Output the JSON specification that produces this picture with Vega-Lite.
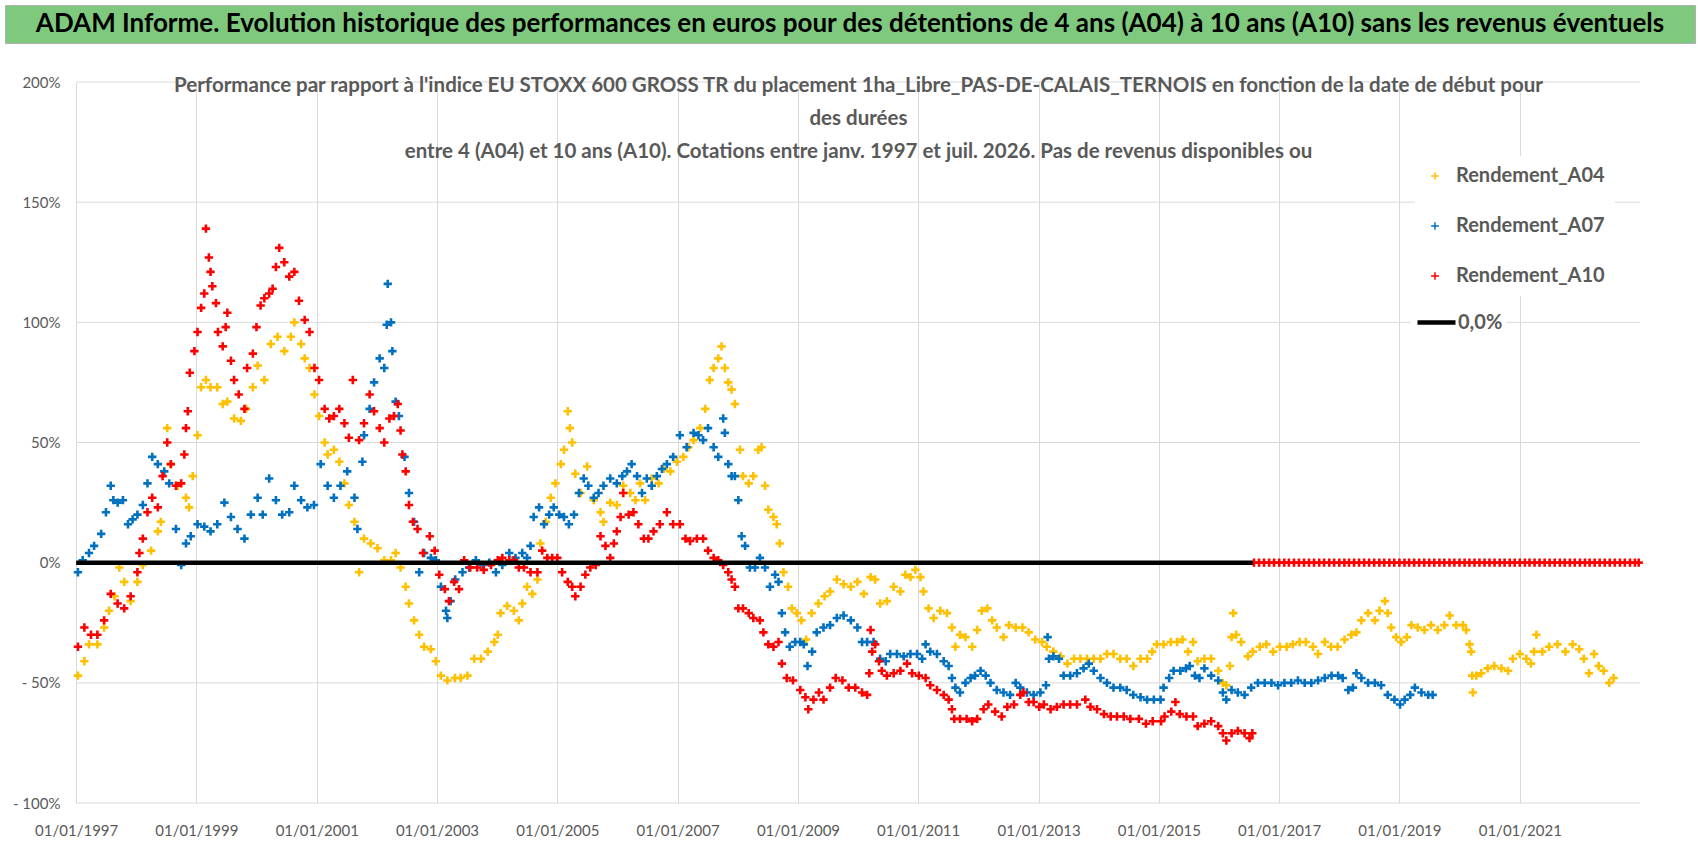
{
  "$schema": "https://vega.github.io/schema/vega-lite/v6.json",
  "background": "white",
  "padding": {"left": 4, "top": 4, "right": 4, "bottom": 4},
  "config": {
    "view": {"stroke": null},
    "font": "Lato"
  },
  "datasets": {
    "banner": [
      {"t": "ADAM Informe. Evolution historique des performances en euros pour des détentions de 4 ans (A04) à 10 ans (A10) sans les revenus éventuels"}
    ],
    "grid": [
      {"g": -100}, {"g": -50}, {"g": 0}, {"g": 50}, {"g": 100}, {"g": 150}, {"g": 200}
    ],
    "zero": [
      {"d": "1997-01-01", "v": 0},
      {"d": "2016-07-25", "v": 0}
    ],
    "pts": [
      {"s":"A04","d":"1997-01-12","v":-47},{"s":"A04","d":"1997-02-20","v":-41},{"s":"A04","d":"1997-03-20","v":-34},{"s":"A04","d":"1997-05-10","v":-34},{"s":"A04","d":"1997-06-20","v":-27},{"s":"A04","d":"1997-07-20","v":-20},{"s":"A04","d":"1997-08-22","v":-14},{"s":"A04","d":"1997-09-20","v":-2},{"s":"A04","d":"1997-10-20","v":-8},{"s":"A04","d":"1997-11-28","v":-16},
      {"s":"A04","d":"1998-01-08","v":-8},{"s":"A04","d":"1998-02-10","v":-1},{"s":"A04","d":"1998-04-01","v":5},{"s":"A04","d":"1998-05-12","v":13},{"s":"A04","d":"1998-05-30","v":17},{"s":"A04","d":"1998-07-08","v":56},{"s":"A04","d":"1998-07-30","v":41},{"s":"A04","d":"1998-09-10","v":32},{"s":"A04","d":"1998-10-30","v":27},{"s":"A04","d":"1998-11-18","v":23},{"s":"A04","d":"1998-12-10","v":36},
      {"s":"A04","d":"1999-01-08","v":53},{"s":"A04","d":"1999-01-30","v":73},{"s":"A04","d":"1999-02-28","v":76},{"s":"A04","d":"1999-03-28","v":73},{"s":"A04","d":"1999-05-08","v":73},{"s":"A04","d":"1999-06-10","v":66},{"s":"A04","d":"1999-07-08","v":67},{"s":"A04","d":"1999-08-18","v":60},{"s":"A04","d":"1999-09-28","v":59},{"s":"A04","d":"1999-10-30","v":64},{"s":"A04","d":"1999-12-10","v":73},
      {"s":"A04","d":"2000-01-08","v":82},{"s":"A04","d":"2000-02-18","v":76},{"s":"A04","d":"2000-03-28","v":91},{"s":"A04","d":"2000-05-08","v":94},{"s":"A04","d":"2000-06-18","v":88},{"s":"A04","d":"2000-07-28","v":94},{"s":"A04","d":"2000-08-18","v":100},{"s":"A04","d":"2000-09-28","v":91},{"s":"A04","d":"2000-10-20","v":85},{"s":"A04","d":"2000-11-18","v":81},{"s":"A04","d":"2000-12-18","v":70},
      {"s":"A04","d":"2001-01-15","v":61},{"s":"A04","d":"2001-02-18","v":50},{"s":"A04","d":"2001-03-08","v":45},{"s":"A04","d":"2001-04-15","v":47},{"s":"A04","d":"2001-05-18","v":42},{"s":"A04","d":"2001-06-18","v":33},{"s":"A04","d":"2001-07-15","v":24},{"s":"A04","d":"2001-08-18","v":17},{"s":"A04","d":"2001-09-15","v":-4},{"s":"A04","d":"2001-10-15","v":10},{"s":"A04","d":"2001-11-25","v":8},
      {"s":"A04","d":"2002-01-05","v":6},{"s":"A04","d":"2002-02-15","v":1},{"s":"A04","d":"2002-03-28","v":1},{"s":"A04","d":"2002-04-25","v":4},{"s":"A04","d":"2002-05-25","v":-2},{"s":"A04","d":"2002-06-25","v":-10},{"s":"A04","d":"2002-07-15","v":-17},{"s":"A04","d":"2002-08-15","v":-24},{"s":"A04","d":"2002-09-15","v":-30},{"s":"A04","d":"2002-10-15","v":-35},{"s":"A04","d":"2002-11-25","v":-36},{"s":"A04","d":"2002-12-25","v":-41},
      {"s":"A04","d":"2003-01-25","v":-47},{"s":"A04","d":"2003-03-05","v":-49},{"s":"A04","d":"2003-04-20","v":-48},{"s":"A04","d":"2003-05-25","v":-48},{"s":"A04","d":"2003-07-05","v":-47},{"s":"A04","d":"2003-08-15","v":-40},{"s":"A04","d":"2003-09-25","v":-40},{"s":"A04","d":"2003-11-05","v":-37},{"s":"A04","d":"2003-12-15","v":-33},
      {"s":"A04","d":"2004-01-05","v":-30},{"s":"A04","d":"2004-01-22","v":-21},{"s":"A04","d":"2004-03-02","v":-18},{"s":"A04","d":"2004-04-12","v":-20},{"s":"A04","d":"2004-05-12","v":-24},{"s":"A04","d":"2004-06-02","v":-17},{"s":"A04","d":"2004-07-01","v":-10},{"s":"A04","d":"2004-08-02","v":-13},{"s":"A04","d":"2004-09-02","v":-7},{"s":"A04","d":"2004-09-20","v":8},{"s":"A04","d":"2004-10-22","v":17},{"s":"A04","d":"2004-11-22","v":27},{"s":"A04","d":"2004-12-20","v":33},
      {"s":"A04","d":"2005-01-22","v":41},{"s":"A04","d":"2005-02-10","v":47},{"s":"A04","d":"2005-03-05","v":63},{"s":"A04","d":"2005-03-18","v":56},{"s":"A04","d":"2005-04-01","v":50},{"s":"A04","d":"2005-04-20","v":37},{"s":"A04","d":"2005-05-22","v":29},{"s":"A04","d":"2005-07-01","v":40},{"s":"A04","d":"2005-08-10","v":26},{"s":"A04","d":"2005-09-20","v":21},{"s":"A04","d":"2005-10-08","v":17},{"s":"A04","d":"2005-11-18","v":25},{"s":"A04","d":"2005-12-28","v":24},
      {"s":"A04","d":"2006-02-05","v":32},{"s":"A04","d":"2006-03-20","v":29},{"s":"A04","d":"2006-04-20","v":26},{"s":"A04","d":"2006-05-18","v":33},{"s":"A04","d":"2006-06-18","v":26},{"s":"A04","d":"2006-07-28","v":35},{"s":"A04","d":"2006-09-08","v":33},{"s":"A04","d":"2006-10-08","v":39},{"s":"A04","d":"2006-11-18","v":38},{"s":"A04","d":"2006-12-28","v":42},
      {"s":"A04","d":"2007-02-05","v":44},{"s":"A04","d":"2007-03-08","v":48},{"s":"A04","d":"2007-04-08","v":51},{"s":"A04","d":"2007-05-18","v":56},{"s":"A04","d":"2007-06-18","v":64},{"s":"A04","d":"2007-07-15","v":76},{"s":"A04","d":"2007-08-08","v":81},{"s":"A04","d":"2007-09-05","v":85},{"s":"A04","d":"2007-09-25","v":90},{"s":"A04","d":"2007-10-15","v":81},{"s":"A04","d":"2007-11-05","v":75},{"s":"A04","d":"2007-11-25","v":72},{"s":"A04","d":"2007-12-15","v":66},
      {"s":"A04","d":"2008-01-15","v":47},{"s":"A04","d":"2008-02-02","v":36},{"s":"A04","d":"2008-03-08","v":33},{"s":"A04","d":"2008-04-05","v":36},{"s":"A04","d":"2008-05-05","v":47},{"s":"A04","d":"2008-05-25","v":48},{"s":"A04","d":"2008-06-15","v":32},{"s":"A04","d":"2008-07-05","v":22},{"s":"A04","d":"2008-08-05","v":19},{"s":"A04","d":"2008-08-25","v":16},{"s":"A04","d":"2008-09-12","v":8},{"s":"A04","d":"2008-10-05","v":-4},{"s":"A04","d":"2008-11-02","v":-10},{"s":"A04","d":"2008-11-25","v":-19},{"s":"A04","d":"2008-12-25","v":-21},
      {"s":"A04","d":"2009-01-22","v":-24},{"s":"A04","d":"2009-02-20","v":-32},{"s":"A04","d":"2009-03-25","v":-21},{"s":"A04","d":"2009-05-05","v":-17},{"s":"A04","d":"2009-06-12","v":-14},{"s":"A04","d":"2009-07-15","v":-12},{"s":"A04","d":"2009-08-25","v":-7},{"s":"A04","d":"2009-10-05","v":-9},{"s":"A04","d":"2009-11-18","v":-10},{"s":"A04","d":"2009-12-28","v":-8},
      {"s":"A04","d":"2010-02-05","v":-13},{"s":"A04","d":"2010-03-18","v":-6},{"s":"A04","d":"2010-04-15","v":-7},{"s":"A04","d":"2010-05-15","v":-17},{"s":"A04","d":"2010-06-25","v":-16},{"s":"A04","d":"2010-08-05","v":-10},{"s":"A04","d":"2010-09-15","v":-12},{"s":"A04","d":"2010-10-15","v":-5},{"s":"A04","d":"2010-11-15","v":-6},{"s":"A04","d":"2010-12-15","v":-3},
      {"s":"A04","d":"2011-01-15","v":-6},{"s":"A04","d":"2011-02-02","v":-12},{"s":"A04","d":"2011-03-05","v":-19},{"s":"A04","d":"2011-04-05","v":-23},{"s":"A04","d":"2011-05-15","v":-20},{"s":"A04","d":"2011-06-25","v":-21},{"s":"A04","d":"2011-07-25","v":-27},{"s":"A04","d":"2011-08-15","v":-35},{"s":"A04","d":"2011-09-12","v":-30},{"s":"A04","d":"2011-10-15","v":-31},{"s":"A04","d":"2011-11-25","v":-35},{"s":"A04","d":"2011-12-25","v":-28},
      {"s":"A04","d":"2012-01-22","v":-20},{"s":"A04","d":"2012-02-25","v":-19},{"s":"A04","d":"2012-03-25","v":-24},{"s":"A04","d":"2012-04-22","v":-27},{"s":"A04","d":"2012-06-02","v":-31},{"s":"A04","d":"2012-07-05","v":-26},{"s":"A04","d":"2012-08-15","v":-27},{"s":"A04","d":"2012-09-25","v":-27},{"s":"A04","d":"2012-11-02","v":-29},{"s":"A04","d":"2012-12-12","v":-32},
      {"s":"A04","d":"2013-01-22","v":-33},{"s":"A04","d":"2013-02-20","v":-35},{"s":"A04","d":"2013-04-01","v":-37},{"s":"A04","d":"2013-05-15","v":-39},{"s":"A04","d":"2013-06-25","v":-42},{"s":"A04","d":"2013-08-05","v":-40},{"s":"A04","d":"2013-09-12","v":-40},{"s":"A04","d":"2013-10-22","v":-40},{"s":"A04","d":"2013-12-02","v":-40},
      {"s":"A04","d":"2014-01-12","v":-40},{"s":"A04","d":"2014-02-20","v":-38},{"s":"A04","d":"2014-04-01","v":-38},{"s":"A04","d":"2014-05-12","v":-40},{"s":"A04","d":"2014-06-20","v":-40},{"s":"A04","d":"2014-07-30","v":-43},{"s":"A04","d":"2014-09-12","v":-40},{"s":"A04","d":"2014-10-22","v":-40},{"s":"A04","d":"2014-11-22","v":-37},{"s":"A04","d":"2014-12-20","v":-34},
      {"s":"A04","d":"2015-01-30","v":-34},{"s":"A04","d":"2015-03-15","v":-33},{"s":"A04","d":"2015-04-22","v":-33},{"s":"A04","d":"2015-05-25","v":-32},{"s":"A04","d":"2015-06-28","v":-37},{"s":"A04","d":"2015-07-28","v":-33},{"s":"A04","d":"2015-08-25","v":-41},{"s":"A04","d":"2015-10-05","v":-40},{"s":"A04","d":"2015-11-15","v":-40},{"s":"A04","d":"2015-12-28","v":-45},
      {"s":"A04","d":"2016-01-25","v":-50},{"s":"A04","d":"2016-02-15","v":-51},{"s":"A04","d":"2016-03-08","v":-43},{"s":"A04","d":"2016-03-18","v":-31},{"s":"A04","d":"2016-03-28","v":-21},{"s":"A04","d":"2016-04-15","v":-30},{"s":"A04","d":"2016-05-15","v":-33},{"s":"A04","d":"2016-06-25","v":-39},{"s":"A04","d":"2016-07-25","v":-37},{"s":"A04","d":"2016-09-05","v":-35},{"s":"A04","d":"2016-10-15","v":-34},{"s":"A04","d":"2016-11-25","v":-37},
      {"s":"A04","d":"2017-01-05","v":-35},{"s":"A04","d":"2017-02-15","v":-35},{"s":"A04","d":"2017-03-25","v":-34},{"s":"A04","d":"2017-05-05","v":-33},{"s":"A04","d":"2017-06-12","v":-33},{"s":"A04","d":"2017-07-25","v":-35},{"s":"A04","d":"2017-08-25","v":-38},{"s":"A04","d":"2017-10-05","v":-33},{"s":"A04","d":"2017-11-12","v":-35},{"s":"A04","d":"2017-12-22","v":-35},
      {"s":"A04","d":"2018-02-02","v":-32},{"s":"A04","d":"2018-03-15","v":-30},{"s":"A04","d":"2018-04-15","v":-29},{"s":"A04","d":"2018-05-15","v":-24},{"s":"A04","d":"2018-06-25","v":-21},{"s":"A04","d":"2018-08-05","v":-24},{"s":"A04","d":"2018-09-02","v":-20},{"s":"A04","d":"2018-10-05","v":-16},{"s":"A04","d":"2018-10-22","v":-21},{"s":"A04","d":"2018-11-12","v":-27},{"s":"A04","d":"2018-12-12","v":-31},
      {"s":"A04","d":"2019-01-12","v":-33},{"s":"A04","d":"2019-02-15","v":-31},{"s":"A04","d":"2019-03-15","v":-26},{"s":"A04","d":"2019-04-22","v":-27},{"s":"A04","d":"2019-06-02","v":-28},{"s":"A04","d":"2019-07-12","v":-26},{"s":"A04","d":"2019-08-22","v":-28},{"s":"A04","d":"2019-10-01","v":-26},{"s":"A04","d":"2019-11-02","v":-22},{"s":"A04","d":"2019-12-12","v":-26},
      {"s":"A04","d":"2020-01-22","v":-26},{"s":"A04","d":"2020-02-10","v":-28},{"s":"A04","d":"2020-03-02","v":-34},{"s":"A04","d":"2020-03-12","v":-37},{"s":"A04","d":"2020-03-18","v":-47},{"s":"A04","d":"2020-03-22","v":-54},{"s":"A04","d":"2020-04-12","v":-47},{"s":"A04","d":"2020-05-12","v":-46},{"s":"A04","d":"2020-06-20","v":-44},{"s":"A04","d":"2020-07-30","v":-43},{"s":"A04","d":"2020-09-12","v":-44},{"s":"A04","d":"2020-10-22","v":-45},{"s":"A04","d":"2020-11-20","v":-40},
      {"s":"A04","d":"2021-01-01","v":-38},{"s":"A04","d":"2021-02-10","v":-40},{"s":"A04","d":"2021-03-10","v":-42},{"s":"A04","d":"2021-03-28","v":-37},{"s":"A04","d":"2021-04-12","v":-30},{"s":"A04","d":"2021-05-18","v":-37},{"s":"A04","d":"2021-06-28","v":-35},{"s":"A04","d":"2021-08-18","v":-34},{"s":"A04","d":"2021-10-05","v":-37},{"s":"A04","d":"2021-11-18","v":-34},{"s":"A04","d":"2021-12-28","v":-36},
      {"s":"A04","d":"2022-01-25","v":-40},{"s":"A04","d":"2022-02-25","v":-46},{"s":"A04","d":"2022-03-28","v":-38},{"s":"A04","d":"2022-04-25","v":-43},{"s":"A04","d":"2022-05-25","v":-45},{"s":"A04","d":"2022-06-28","v":-50},{"s":"A04","d":"2022-07-25","v":-48},

      {"s":"A07","d":"1997-01-12","v":-4},{"s":"A07","d":"1997-02-10","v":1},{"s":"A07","d":"1997-03-20","v":4},{"s":"A07","d":"1997-04-20","v":7},{"s":"A07","d":"1997-06-02","v":12},{"s":"A07","d":"1997-07-01","v":21},{"s":"A07","d":"1997-07-30","v":32},{"s":"A07","d":"1997-08-15","v":26},{"s":"A07","d":"1997-09-10","v":25},{"s":"A07","d":"1997-10-12","v":26},{"s":"A07","d":"1997-11-12","v":16},{"s":"A07","d":"1997-12-10","v":18},
      {"s":"A07","d":"1998-01-08","v":20},{"s":"A07","d":"1998-02-10","v":24},{"s":"A07","d":"1998-03-10","v":33},{"s":"A07","d":"1998-04-08","v":44},{"s":"A07","d":"1998-05-12","v":41},{"s":"A07","d":"1998-06-20","v":38},{"s":"A07","d":"1998-07-20","v":33},{"s":"A07","d":"1998-08-30","v":14},{"s":"A07","d":"1998-10-01","v":-1},{"s":"A07","d":"1998-10-30","v":8},{"s":"A07","d":"1998-11-28","v":11},
      {"s":"A07","d":"1999-01-08","v":16},{"s":"A07","d":"1999-02-18","v":15},{"s":"A07","d":"1999-03-28","v":13},{"s":"A07","d":"1999-05-08","v":16},{"s":"A07","d":"1999-06-20","v":25},{"s":"A07","d":"1999-07-30","v":19},{"s":"A07","d":"1999-09-08","v":14},{"s":"A07","d":"1999-10-20","v":10},{"s":"A07","d":"1999-11-28","v":20},
      {"s":"A07","d":"2000-01-08","v":27},{"s":"A07","d":"2000-02-08","v":20},{"s":"A07","d":"2000-03-18","v":35},{"s":"A07","d":"2000-04-28","v":26},{"s":"A07","d":"2000-06-05","v":20},{"s":"A07","d":"2000-07-18","v":21},{"s":"A07","d":"2000-08-18","v":32},{"s":"A07","d":"2000-09-28","v":26},{"s":"A07","d":"2000-11-05","v":23},{"s":"A07","d":"2000-12-15","v":24},
      {"s":"A07","d":"2001-01-25","v":41},{"s":"A07","d":"2001-03-08","v":32},{"s":"A07","d":"2001-04-15","v":27},{"s":"A07","d":"2001-05-25","v":32},{"s":"A07","d":"2001-07-05","v":38},{"s":"A07","d":"2001-08-18","v":27},{"s":"A07","d":"2001-09-05","v":14},{"s":"A07","d":"2001-10-05","v":42},{"s":"A07","d":"2001-10-15","v":53},{"s":"A07","d":"2001-11-18","v":64},{"s":"A07","d":"2001-12-15","v":75},
      {"s":"A07","d":"2002-01-18","v":85},{"s":"A07","d":"2002-02-15","v":81},{"s":"A07","d":"2002-03-02","v":99},{"s":"A07","d":"2002-03-08","v":116},{"s":"A07","d":"2002-03-28","v":100},{"s":"A07","d":"2002-04-05","v":88},{"s":"A07","d":"2002-04-25","v":67},{"s":"A07","d":"2002-05-15","v":61},{"s":"A07","d":"2002-06-18","v":44},{"s":"A07","d":"2002-07-15","v":29},{"s":"A07","d":"2002-08-15","v":17},{"s":"A07","d":"2002-09-15","v":-4},{"s":"A07","d":"2002-10-15","v":4},{"s":"A07","d":"2002-11-25","v":2},{"s":"A07","d":"2002-12-25","v":1},
      {"s":"A07","d":"2003-01-25","v":-10},{"s":"A07","d":"2003-02-25","v":-20},{"s":"A07","d":"2003-03-05","v":-23},{"s":"A07","d":"2003-03-25","v":-16},{"s":"A07","d":"2003-04-22","v":-7},{"s":"A07","d":"2003-06-05","v":-4},{"s":"A07","d":"2003-07-15","v":-2},{"s":"A07","d":"2003-08-25","v":1},{"s":"A07","d":"2003-10-05","v":-1},{"s":"A07","d":"2003-11-15","v":0},{"s":"A07","d":"2003-12-25","v":-4},
      {"s":"A07","d":"2004-02-02","v":-1},{"s":"A07","d":"2004-03-15","v":4},{"s":"A07","d":"2004-04-22","v":2},{"s":"A07","d":"2004-06-02","v":4},{"s":"A07","d":"2004-07-01","v":2},{"s":"A07","d":"2004-07-22","v":7},{"s":"A07","d":"2004-08-10","v":19},{"s":"A07","d":"2004-09-12","v":23},{"s":"A07","d":"2004-10-12","v":16},{"s":"A07","d":"2004-11-12","v":20},{"s":"A07","d":"2004-12-10","v":23},
      {"s":"A07","d":"2005-01-12","v":20},{"s":"A07","d":"2005-02-10","v":19},{"s":"A07","d":"2005-03-12","v":16},{"s":"A07","d":"2005-04-12","v":20},{"s":"A07","d":"2005-05-12","v":29},{"s":"A07","d":"2005-06-10","v":35},{"s":"A07","d":"2005-07-08","v":32},{"s":"A07","d":"2005-08-10","v":27},{"s":"A07","d":"2005-09-08","v":29},{"s":"A07","d":"2005-10-08","v":32},{"s":"A07","d":"2005-11-18","v":35},{"s":"A07","d":"2005-12-28","v":33},
      {"s":"A07","d":"2006-01-30","v":36},{"s":"A07","d":"2006-02-28","v":38},{"s":"A07","d":"2006-03-28","v":41},{"s":"A07","d":"2006-04-30","v":36},{"s":"A07","d":"2006-05-30","v":29},{"s":"A07","d":"2006-06-28","v":35},{"s":"A07","d":"2006-07-28","v":32},{"s":"A07","d":"2006-08-28","v":36},{"s":"A07","d":"2006-09-28","v":39},{"s":"A07","d":"2006-10-28","v":41},{"s":"A07","d":"2006-12-05","v":44},
      {"s":"A07","d":"2007-01-15","v":53},{"s":"A07","d":"2007-02-25","v":48},{"s":"A07","d":"2007-04-08","v":54},{"s":"A07","d":"2007-05-08","v":53},{"s":"A07","d":"2007-06-05","v":51},{"s":"A07","d":"2007-07-05","v":56},{"s":"A07","d":"2007-08-08","v":48},{"s":"A07","d":"2007-09-05","v":44},{"s":"A07","d":"2007-10-05","v":60},{"s":"A07","d":"2007-10-15","v":54},{"s":"A07","d":"2007-11-05","v":41},{"s":"A07","d":"2007-11-25","v":36},{"s":"A07","d":"2007-12-15","v":36},
      {"s":"A07","d":"2008-01-05","v":26},{"s":"A07","d":"2008-01-25","v":11},{"s":"A07","d":"2008-02-15","v":7},{"s":"A07","d":"2008-03-15","v":-2},{"s":"A07","d":"2008-04-15","v":-2},{"s":"A07","d":"2008-05-15","v":2},{"s":"A07","d":"2008-06-15","v":-2},{"s":"A07","d":"2008-07-15","v":-10},{"s":"A07","d":"2008-08-15","v":-5},{"s":"A07","d":"2008-09-05","v":-8},{"s":"A07","d":"2008-09-25","v":-21},{"s":"A07","d":"2008-10-15","v":-29},{"s":"A07","d":"2008-11-12","v":-35},{"s":"A07","d":"2008-12-15","v":-33},
      {"s":"A07","d":"2009-01-15","v":-33},{"s":"A07","d":"2009-02-05","v":-34},{"s":"A07","d":"2009-02-28","v":-43},{"s":"A07","d":"2009-03-28","v":-37},{"s":"A07","d":"2009-04-25","v":-29},{"s":"A07","d":"2009-06-05","v":-27},{"s":"A07","d":"2009-07-15","v":-26},{"s":"A07","d":"2009-08-25","v":-23},{"s":"A07","d":"2009-10-05","v":-22},{"s":"A07","d":"2009-11-18","v":-24},{"s":"A07","d":"2009-12-28","v":-27},
      {"s":"A07","d":"2010-01-25","v":-33},{"s":"A07","d":"2010-02-25","v":-33},{"s":"A07","d":"2010-04-05","v":-33},{"s":"A07","d":"2010-05-15","v":-40},{"s":"A07","d":"2010-06-18","v":-41},{"s":"A07","d":"2010-07-15","v":-38},{"s":"A07","d":"2010-08-25","v":-38},{"s":"A07","d":"2010-10-05","v":-39},{"s":"A07","d":"2010-11-15","v":-38},{"s":"A07","d":"2010-12-25","v":-38},
      {"s":"A07","d":"2011-01-25","v":-40},{"s":"A07","d":"2011-02-15","v":-34},{"s":"A07","d":"2011-03-15","v":-37},{"s":"A07","d":"2011-04-25","v":-38},{"s":"A07","d":"2011-06-05","v":-41},{"s":"A07","d":"2011-07-05","v":-43},{"s":"A07","d":"2011-07-25","v":-48},{"s":"A07","d":"2011-08-15","v":-52},{"s":"A07","d":"2011-09-12","v":-54},{"s":"A07","d":"2011-10-15","v":-50},{"s":"A07","d":"2011-11-15","v":-48},{"s":"A07","d":"2011-12-12","v":-47},
      {"s":"A07","d":"2012-01-15","v":-45},{"s":"A07","d":"2012-02-15","v":-47},{"s":"A07","d":"2012-03-15","v":-50},{"s":"A07","d":"2012-04-22","v":-53},{"s":"A07","d":"2012-06-02","v":-54},{"s":"A07","d":"2012-07-12","v":-55},{"s":"A07","d":"2012-08-15","v":-50},{"s":"A07","d":"2012-09-12","v":-52},{"s":"A07","d":"2012-10-22","v":-54},{"s":"A07","d":"2012-12-02","v":-55},
      {"s":"A07","d":"2013-01-12","v":-54},{"s":"A07","d":"2013-02-15","v":-51},{"s":"A07","d":"2013-02-25","v":-31},{"s":"A07","d":"2013-03-05","v":-40},{"s":"A07","d":"2013-04-01","v":-39},{"s":"A07","d":"2013-05-05","v":-40},{"s":"A07","d":"2013-06-02","v":-47},{"s":"A07","d":"2013-07-12","v":-47},{"s":"A07","d":"2013-08-22","v":-46},{"s":"A07","d":"2013-10-01","v":-44},{"s":"A07","d":"2013-11-02","v":-42},{"s":"A07","d":"2013-12-02","v":-45},
      {"s":"A07","d":"2014-01-12","v":-48},{"s":"A07","d":"2014-02-20","v":-50},{"s":"A07","d":"2014-04-01","v":-52},{"s":"A07","d":"2014-05-12","v":-52},{"s":"A07","d":"2014-06-20","v":-53},{"s":"A07","d":"2014-07-30","v":-55},{"s":"A07","d":"2014-09-12","v":-56},{"s":"A07","d":"2014-10-22","v":-57},{"s":"A07","d":"2014-12-02","v":-57},
      {"s":"A07","d":"2015-01-12","v":-57},{"s":"A07","d":"2015-01-30","v":-52},{"s":"A07","d":"2015-03-05","v":-48},{"s":"A07","d":"2015-04-01","v":-45},{"s":"A07","d":"2015-05-12","v":-45},{"s":"A07","d":"2015-06-15","v":-44},{"s":"A07","d":"2015-07-08","v":-43},{"s":"A07","d":"2015-08-08","v":-47},{"s":"A07","d":"2015-09-05","v":-48},{"s":"A07","d":"2015-10-05","v":-44},{"s":"A07","d":"2015-11-15","v":-47},{"s":"A07","d":"2015-12-28","v":-49},
      {"s":"A07","d":"2016-01-25","v":-54},{"s":"A07","d":"2016-02-15","v":-57},{"s":"A07","d":"2016-03-18","v":-53},{"s":"A07","d":"2016-04-25","v":-54},{"s":"A07","d":"2016-06-05","v":-55},{"s":"A07","d":"2016-07-15","v":-52},{"s":"A07","d":"2016-08-25","v":-50},{"s":"A07","d":"2016-10-05","v":-50},{"s":"A07","d":"2016-11-15","v":-50},{"s":"A07","d":"2016-12-25","v":-51},
      {"s":"A07","d":"2017-02-02","v":-50},{"s":"A07","d":"2017-03-15","v":-50},{"s":"A07","d":"2017-04-25","v":-49},{"s":"A07","d":"2017-06-05","v":-50},{"s":"A07","d":"2017-07-15","v":-50},{"s":"A07","d":"2017-08-25","v":-49},{"s":"A07","d":"2017-10-05","v":-48},{"s":"A07","d":"2017-11-15","v":-47},{"s":"A07","d":"2017-12-25","v":-47},
      {"s":"A07","d":"2018-01-22","v":-48},{"s":"A07","d":"2018-02-25","v":-53},{"s":"A07","d":"2018-03-25","v":-52},{"s":"A07","d":"2018-04-15","v":-46},{"s":"A07","d":"2018-05-15","v":-48},{"s":"A07","d":"2018-06-25","v":-50},{"s":"A07","d":"2018-08-05","v":-50},{"s":"A07","d":"2018-09-12","v":-51},{"s":"A07","d":"2018-10-22","v":-55},{"s":"A07","d":"2018-12-02","v":-57},
      {"s":"A07","d":"2019-01-05","v":-59},{"s":"A07","d":"2019-02-02","v":-57},{"s":"A07","d":"2019-03-08","v":-55},{"s":"A07","d":"2019-04-05","v":-52},{"s":"A07","d":"2019-05-15","v":-54},{"s":"A07","d":"2019-06-25","v":-55},{"s":"A07","d":"2019-07-22","v":-55},

      {"s":"A10","d":"1997-01-12","v":-35},{"s":"A10","d":"1997-02-20","v":-27},{"s":"A10","d":"1997-04-01","v":-30},{"s":"A10","d":"1997-05-10","v":-30},{"s":"A10","d":"1997-06-20","v":-24},{"s":"A10","d":"1997-07-30","v":-13},{"s":"A10","d":"1997-09-10","v":-17},{"s":"A10","d":"1997-10-20","v":-19},{"s":"A10","d":"1997-11-28","v":-14},
      {"s":"A10","d":"1998-01-08","v":-4},{"s":"A10","d":"1998-01-20","v":4},{"s":"A10","d":"1998-02-10","v":10},{"s":"A10","d":"1998-03-10","v":21},{"s":"A10","d":"1998-04-08","v":27},{"s":"A10","d":"1998-05-12","v":23},{"s":"A10","d":"1998-06-10","v":36},{"s":"A10","d":"1998-07-08","v":50},{"s":"A10","d":"1998-07-30","v":41},{"s":"A10","d":"1998-08-30","v":32},{"s":"A10","d":"1998-10-01","v":33},{"s":"A10","d":"1998-10-20","v":45},{"s":"A10","d":"1998-10-30","v":56},{"s":"A10","d":"1998-11-10","v":63},{"s":"A10","d":"1998-11-22","v":79},{"s":"A10","d":"1998-12-20","v":88},
      {"s":"A10","d":"1999-01-08","v":96},{"s":"A10","d":"1999-01-30","v":106},{"s":"A10","d":"1999-02-18","v":112},{"s":"A10","d":"1999-02-28","v":139},{"s":"A10","d":"1999-03-18","v":127},{"s":"A10","d":"1999-03-28","v":121},{"s":"A10","d":"1999-04-08","v":115},{"s":"A10","d":"1999-04-30","v":108},{"s":"A10","d":"1999-05-12","v":96},{"s":"A10","d":"1999-06-10","v":90},{"s":"A10","d":"1999-06-28","v":98},{"s":"A10","d":"1999-07-08","v":104},{"s":"A10","d":"1999-07-30","v":84},{"s":"A10","d":"1999-08-18","v":76},{"s":"A10","d":"1999-09-15","v":70},{"s":"A10","d":"1999-10-20","v":64},{"s":"A10","d":"1999-11-05","v":81},{"s":"A10","d":"1999-12-10","v":87},
      {"s":"A10","d":"2000-01-01","v":98},{"s":"A10","d":"2000-01-26","v":107},{"s":"A10","d":"2000-02-18","v":110},{"s":"A10","d":"2000-03-18","v":112},{"s":"A10","d":"2000-04-08","v":114},{"s":"A10","d":"2000-04-28","v":123},{"s":"A10","d":"2000-05-18","v":131},{"s":"A10","d":"2000-06-18","v":125},{"s":"A10","d":"2000-07-18","v":119},{"s":"A10","d":"2000-08-18","v":121},{"s":"A10","d":"2000-09-15","v":109},{"s":"A10","d":"2000-10-20","v":101},{"s":"A10","d":"2000-11-18","v":96},{"s":"A10","d":"2000-12-18","v":81},
      {"s":"A10","d":"2001-01-15","v":76},{"s":"A10","d":"2001-02-18","v":64},{"s":"A10","d":"2001-03-18","v":60},{"s":"A10","d":"2001-04-15","v":61},{"s":"A10","d":"2001-05-18","v":64},{"s":"A10","d":"2001-06-18","v":58},{"s":"A10","d":"2001-07-15","v":52},{"s":"A10","d":"2001-08-08","v":76},{"s":"A10","d":"2001-09-15","v":51},{"s":"A10","d":"2001-10-15","v":58},{"s":"A10","d":"2001-11-18","v":70},{"s":"A10","d":"2001-12-15","v":63},
      {"s":"A10","d":"2002-01-18","v":56},{"s":"A10","d":"2002-02-15","v":50},{"s":"A10","d":"2002-03-18","v":60},{"s":"A10","d":"2002-04-15","v":61},{"s":"A10","d":"2002-05-08","v":66},{"s":"A10","d":"2002-05-25","v":55},{"s":"A10","d":"2002-06-05","v":45},{"s":"A10","d":"2002-06-25","v":38},{"s":"A10","d":"2002-07-15","v":24},{"s":"A10","d":"2002-08-08","v":17},{"s":"A10","d":"2002-09-05","v":14},{"s":"A10","d":"2002-10-08","v":4},{"s":"A10","d":"2002-11-18","v":11},{"s":"A10","d":"2002-12-18","v":5},
      {"s":"A10","d":"2003-01-15","v":-5},{"s":"A10","d":"2003-02-18","v":-11},{"s":"A10","d":"2003-03-15","v":-16},{"s":"A10","d":"2003-04-15","v":-8},{"s":"A10","d":"2003-05-15","v":-11},{"s":"A10","d":"2003-06-15","v":1},{"s":"A10","d":"2003-07-22","v":-2},{"s":"A10","d":"2003-09-02","v":-2},{"s":"A10","d":"2003-10-12","v":-3},{"s":"A10","d":"2003-11-25","v":-1},
      {"s":"A10","d":"2004-01-05","v":1},{"s":"A10","d":"2004-02-02","v":2},{"s":"A10","d":"2004-03-15","v":1},{"s":"A10","d":"2004-04-12","v":1},{"s":"A10","d":"2004-05-12","v":-2},{"s":"A10","d":"2004-06-12","v":-2},{"s":"A10","d":"2004-07-22","v":-4},{"s":"A10","d":"2004-09-02","v":-4},{"s":"A10","d":"2004-10-01","v":5},{"s":"A10","d":"2004-11-01","v":2},{"s":"A10","d":"2004-12-01","v":2},
      {"s":"A10","d":"2005-01-01","v":2},{"s":"A10","d":"2005-01-30","v":-4},{"s":"A10","d":"2005-03-05","v":-8},{"s":"A10","d":"2005-04-01","v":-10},{"s":"A10","d":"2005-04-20","v":-14},{"s":"A10","d":"2005-05-22","v":-10},{"s":"A10","d":"2005-06-20","v":-5},{"s":"A10","d":"2005-07-20","v":-2},{"s":"A10","d":"2005-08-22","v":-1},{"s":"A10","d":"2005-09-20","v":11},{"s":"A10","d":"2005-10-20","v":7},{"s":"A10","d":"2005-11-18","v":2},{"s":"A10","d":"2005-12-10","v":8},{"s":"A10","d":"2005-12-28","v":13},
      {"s":"A10","d":"2006-01-20","v":19},{"s":"A10","d":"2006-02-05","v":29},{"s":"A10","d":"2006-03-10","v":20},{"s":"A10","d":"2006-04-08","v":21},{"s":"A10","d":"2006-05-08","v":16},{"s":"A10","d":"2006-06-10","v":10},{"s":"A10","d":"2006-07-08","v":10},{"s":"A10","d":"2006-08-08","v":13},{"s":"A10","d":"2006-09-15","v":16},{"s":"A10","d":"2006-10-28","v":21},{"s":"A10","d":"2006-12-05","v":16},
      {"s":"A10","d":"2007-01-15","v":16},{"s":"A10","d":"2007-02-18","v":10},{"s":"A10","d":"2007-03-18","v":9},{"s":"A10","d":"2007-04-28","v":10},{"s":"A10","d":"2007-06-05","v":10},{"s":"A10","d":"2007-07-05","v":5},{"s":"A10","d":"2007-08-08","v":2},{"s":"A10","d":"2007-09-05","v":1},{"s":"A10","d":"2007-10-05","v":-1},{"s":"A10","d":"2007-11-05","v":-4},{"s":"A10","d":"2007-11-25","v":-7},{"s":"A10","d":"2007-12-15","v":-10},
      {"s":"A10","d":"2008-01-05","v":-19},{"s":"A10","d":"2008-02-02","v":-19},{"s":"A10","d":"2008-03-08","v":-21},{"s":"A10","d":"2008-04-05","v":-23},{"s":"A10","d":"2008-05-15","v":-24},{"s":"A10","d":"2008-06-05","v":-29},{"s":"A10","d":"2008-07-05","v":-34},{"s":"A10","d":"2008-08-05","v":-35},{"s":"A10","d":"2008-09-05","v":-33},{"s":"A10","d":"2008-09-25","v":-42},{"s":"A10","d":"2008-10-25","v":-48},{"s":"A10","d":"2008-12-02","v":-49},
      {"s":"A10","d":"2009-01-15","v":-53},{"s":"A10","d":"2009-02-15","v":-56},{"s":"A10","d":"2009-03-05","v":-61},{"s":"A10","d":"2009-04-05","v":-57},{"s":"A10","d":"2009-05-08","v":-54},{"s":"A10","d":"2009-06-05","v":-57},{"s":"A10","d":"2009-07-15","v":-52},{"s":"A10","d":"2009-08-18","v":-48},{"s":"A10","d":"2009-09-28","v":-49},{"s":"A10","d":"2009-11-05","v":-52},{"s":"A10","d":"2009-12-15","v":-52},
      {"s":"A10","d":"2010-01-25","v":-54},{"s":"A10","d":"2010-02-25","v":-55},{"s":"A10","d":"2010-03-10","v":-46},{"s":"A10","d":"2010-03-18","v":-28},{"s":"A10","d":"2010-03-28","v":-37},{"s":"A10","d":"2010-04-15","v":-34},{"s":"A10","d":"2010-05-08","v":-41},{"s":"A10","d":"2010-05-25","v":-45},{"s":"A10","d":"2010-06-25","v":-47},{"s":"A10","d":"2010-08-05","v":-46},{"s":"A10","d":"2010-09-15","v":-45},{"s":"A10","d":"2010-10-25","v":-42},{"s":"A10","d":"2010-11-25","v":-46},
      {"s":"A10","d":"2011-01-05","v":-47},{"s":"A10","d":"2011-02-15","v":-48},{"s":"A10","d":"2011-03-15","v":-51},{"s":"A10","d":"2011-04-25","v":-53},{"s":"A10","d":"2011-06-05","v":-55},{"s":"A10","d":"2011-07-05","v":-57},{"s":"A10","d":"2011-07-25","v":-61},{"s":"A10","d":"2011-08-08","v":-65},{"s":"A10","d":"2011-09-12","v":-65},{"s":"A10","d":"2011-10-22","v":-65},{"s":"A10","d":"2011-11-25","v":-66},{"s":"A10","d":"2011-12-25","v":-65},
      {"s":"A10","d":"2012-02-02","v":-61},{"s":"A10","d":"2012-03-02","v":-59},{"s":"A10","d":"2012-04-12","v":-62},{"s":"A10","d":"2012-05-22","v":-64},{"s":"A10","d":"2012-06-25","v":-60},{"s":"A10","d":"2012-08-05","v":-59},{"s":"A10","d":"2012-09-12","v":-55},{"s":"A10","d":"2012-10-01","v":-54},{"s":"A10","d":"2012-11-02","v":-58},{"s":"A10","d":"2012-12-02","v":-58},
      {"s":"A10","d":"2013-01-05","v":-60},{"s":"A10","d":"2013-02-02","v":-59},{"s":"A10","d":"2013-03-15","v":-61},{"s":"A10","d":"2013-04-22","v":-60},{"s":"A10","d":"2013-06-02","v":-59},{"s":"A10","d":"2013-07-12","v":-59},{"s":"A10","d":"2013-08-22","v":-59},{"s":"A10","d":"2013-10-12","v":-57},{"s":"A10","d":"2013-11-12","v":-60},{"s":"A10","d":"2013-12-22","v":-61},
      {"s":"A10","d":"2014-02-02","v":-63},{"s":"A10","d":"2014-03-15","v":-64},{"s":"A10","d":"2014-04-22","v":-64},{"s":"A10","d":"2014-06-02","v":-64},{"s":"A10","d":"2014-07-12","v":-65},{"s":"A10","d":"2014-09-02","v":-65},{"s":"A10","d":"2014-10-15","v":-67},{"s":"A10","d":"2014-11-25","v":-66},
      {"s":"A10","d":"2015-01-15","v":-66},{"s":"A10","d":"2015-02-05","v":-64},{"s":"A10","d":"2015-03-18","v":-62},{"s":"A10","d":"2015-04-12","v":-58},{"s":"A10","d":"2015-05-08","v":-63},{"s":"A10","d":"2015-06-18","v":-64},{"s":"A10","d":"2015-07-28","v":-64},{"s":"A10","d":"2015-08-25","v":-68},{"s":"A10","d":"2015-10-05","v":-67},{"s":"A10","d":"2015-11-15","v":-66},{"s":"A10","d":"2015-12-28","v":-68},
      {"s":"A10","d":"2016-01-25","v":-71},{"s":"A10","d":"2016-02-15","v":-74},{"s":"A10","d":"2016-03-18","v":-71},{"s":"A10","d":"2016-04-25","v":-70},{"s":"A10","d":"2016-06-05","v":-71},{"s":"A10","d":"2016-07-05","v":-73},{"s":"A10","d":"2016-07-22","v":-71},
      {"s":"A10","d":"2016-08-01","v":0},{"s":"A10","d":"2016-09-01","v":0},{"s":"A10","d":"2016-10-01","v":0},{"s":"A10","d":"2016-11-01","v":0},{"s":"A10","d":"2016-12-01","v":0},
      {"s":"A10","d":"2017-01-01","v":0},{"s":"A10","d":"2017-02-01","v":0},{"s":"A10","d":"2017-03-01","v":0},{"s":"A10","d":"2017-04-01","v":0},{"s":"A10","d":"2017-05-01","v":0},{"s":"A10","d":"2017-06-01","v":0},{"s":"A10","d":"2017-07-01","v":0},{"s":"A10","d":"2017-08-01","v":0},{"s":"A10","d":"2017-09-01","v":0},{"s":"A10","d":"2017-10-01","v":0},{"s":"A10","d":"2017-11-01","v":0},{"s":"A10","d":"2017-12-01","v":0},
      {"s":"A10","d":"2018-01-01","v":0},{"s":"A10","d":"2018-02-01","v":0},{"s":"A10","d":"2018-03-01","v":0},{"s":"A10","d":"2018-04-01","v":0},{"s":"A10","d":"2018-05-01","v":0},{"s":"A10","d":"2018-06-01","v":0},{"s":"A10","d":"2018-07-01","v":0},{"s":"A10","d":"2018-08-01","v":0},{"s":"A10","d":"2018-09-01","v":0},{"s":"A10","d":"2018-10-01","v":0},{"s":"A10","d":"2018-11-01","v":0},{"s":"A10","d":"2018-12-01","v":0},
      {"s":"A10","d":"2019-01-01","v":0},{"s":"A10","d":"2019-02-01","v":0},{"s":"A10","d":"2019-03-01","v":0},{"s":"A10","d":"2019-04-01","v":0},{"s":"A10","d":"2019-05-01","v":0},{"s":"A10","d":"2019-06-01","v":0},{"s":"A10","d":"2019-07-01","v":0},{"s":"A10","d":"2019-08-01","v":0},{"s":"A10","d":"2019-09-01","v":0},{"s":"A10","d":"2019-10-01","v":0},{"s":"A10","d":"2019-11-01","v":0},{"s":"A10","d":"2019-12-01","v":0},
      {"s":"A10","d":"2020-01-01","v":0},{"s":"A10","d":"2020-02-01","v":0},{"s":"A10","d":"2020-03-01","v":0},{"s":"A10","d":"2020-04-01","v":0},{"s":"A10","d":"2020-05-01","v":0},{"s":"A10","d":"2020-06-01","v":0},{"s":"A10","d":"2020-07-01","v":0},{"s":"A10","d":"2020-08-01","v":0},{"s":"A10","d":"2020-09-01","v":0},{"s":"A10","d":"2020-10-01","v":0},{"s":"A10","d":"2020-11-01","v":0},{"s":"A10","d":"2020-12-01","v":0},
      {"s":"A10","d":"2021-01-01","v":0},{"s":"A10","d":"2021-02-01","v":0},{"s":"A10","d":"2021-03-01","v":0},{"s":"A10","d":"2021-04-01","v":0},{"s":"A10","d":"2021-05-01","v":0},{"s":"A10","d":"2021-06-01","v":0},{"s":"A10","d":"2021-07-01","v":0},{"s":"A10","d":"2021-08-01","v":0},{"s":"A10","d":"2021-09-01","v":0},{"s":"A10","d":"2021-10-01","v":0},{"s":"A10","d":"2021-11-01","v":0},{"s":"A10","d":"2021-12-01","v":0},
      {"s":"A10","d":"2022-01-01","v":0},{"s":"A10","d":"2022-02-01","v":0},{"s":"A10","d":"2022-03-01","v":0},{"s":"A10","d":"2022-04-01","v":0},{"s":"A10","d":"2022-05-01","v":0},{"s":"A10","d":"2022-06-01","v":0},{"s":"A10","d":"2022-07-01","v":0},{"s":"A10","d":"2022-08-01","v":0},{"s":"A10","d":"2022-09-01","v":0},{"s":"A10","d":"2022-10-01","v":0},{"s":"A10","d":"2022-11-01","v":0},{"s":"A10","d":"2022-12-01","v":0},{"s":"A10","d":"2022-12-24","v":0}
    ]
  },
  "spacing": 31,
  "vconcat": [
    {
      "width": 1690,
      "height": 38,
      "view": {"fill": "#7fc97f", "stroke": "#b0b0b0"},
      "data": {"name": "banner"},
      "mark": {"type": "text", "fontSize": 26, "fontWeight": "bold", "color": "black"},
      "encoding": {"text": {"field": "t", "type": "nominal"}}
    },
    {
      "width": 1635,
      "height": 721,
      "title": {
        "text": [
          "Performance par rapport à l'indice EU STOXX 600 GROSS TR  du placement 1ha_Libre_PAS-DE-CALAIS_TERNOIS en fonction de la date de début pour",
          "des durées",
          "entre 4 (A04) et 10 ans (A10). Cotations entre janv. 1997 et juil. 2026. Pas de revenus disponibles ou"
        ],
        "anchor": "middle",
        "frame": "group",
        "dx": 36,
        "fontSize": 20.5,
        "fontWeight": "bold",
        "color": "#595959",
        "lineHeight": 33,
        "offset": -87
      },
      "layer": [
        {
          "data": {"name": "grid"},
          "mark": {"type": "rule", "color": "#d9d9d9", "strokeWidth": 1},
          "encoding": {
            "y": {"field": "g", "type": "quantitative", "title": null},
            "x": {"datum": {"year": 1997, "month": 1, "date": 1}, "type": "temporal", "title": null},
            "x2": {"datum": {"year": 2023, "month": 1, "date": 1}}
          }
        },
        {
          "mark": {"type": "rule", "color": "#b3b3b3", "strokeWidth": 1.5},
          "encoding": {
            "y": {"datum": -25, "type": "quantitative", "title": null},
            "x": {"datum": {"year": 1997, "month": 1, "date": 1}, "type": "temporal", "title": null},
            "x2": {"datum": {"year": 2023, "month": 1, "date": 1}}
          }
        },
        {
          "data": {"name": "pts"},
          "mark": {"type": "point", "shape": "M-1,0H1M0,-1V1", "filled": false, "strokeWidth": 2.6, "size": 70, "opacity": 1},
          "encoding": {
            "x": {
              "field": "d", "type": "temporal", "title": null,
              "scale": {"domain": [{"year": 1995, "month": 10, "date": 27}, {"year": 2023, "month": 1, "date": 1}]},
              "axis": {
                "values": [
                  {"year": 1997, "month": 1, "date": 1}, {"year": 1999, "month": 1, "date": 1}, {"year": 2001, "month": 1, "date": 1},
                  {"year": 2003, "month": 1, "date": 1}, {"year": 2005, "month": 1, "date": 1}, {"year": 2007, "month": 1, "date": 1},
                  {"year": 2009, "month": 1, "date": 1}, {"year": 2011, "month": 1, "date": 1}, {"year": 2013, "month": 1, "date": 1},
                  {"year": 2015, "month": 1, "date": 1}, {"year": 2017, "month": 1, "date": 1}, {"year": 2019, "month": 1, "date": 1},
                  {"year": 2021, "month": 1, "date": 1}
                ],
                "format": "%d/%m/%Y",
                "ticks": false,
                "domain": false,
                "grid": true,
                "gridColor": "#d9d9d9",
                "labelFontSize": 15,
                "labelColor": "#595959",
                "labelPadding": 20,
                "labelFlush": false,
                "labelOverlap": false
              }
            },
            "y": {
              "field": "v", "type": "quantitative", "title": null,
              "scale": {"domain": [-100, 200], "nice": false, "zero": false},
              "axis": {
                "values": [-100, -50, 0, 50, 100, 150, 200],
                "labelExpr": "datum.value < 0 ? '- ' + abs(datum.value) + '%' : datum.value + '%'",
                "offset": -71,
                "ticks": false,
                "domain": false,
                "grid": false,
                "labelFontSize": 15,
                "labelColor": "#595959",
                "labelPadding": 16,
                "minExtent": 0
              }
            },
            "color": {
              "field": "s", "type": "nominal",
              "scale": {"domain": ["A04", "A07", "A10"], "range": ["#FFC000", "#0070C0", "#FF0000"]},
              "legend": {
                "title": null,
                "orient": "none",
                "legendX": 1410,
                "legendY": 151,
                "symbolType": "M-1,0H1M0,-1V1",
                "symbolSize": 60,
                "symbolStrokeWidth": 1.5,
                "labelExpr": "'Rendement_' + datum.label",
                "labelFontSize": 20,
                "labelFontWeight": "bold",
                "labelColor": "#595959",
                "labelLimit": 400,
                "labelOffset": 11,
                "rowPadding": 30,
                "padding": 10,
                "fillColor": "white"
              }
            }
          }
        },
        {
          "data": {"name": "zero"},
          "mark": {"type": "line", "strokeWidth": 4.5},
          "encoding": {
            "x": {"field": "d", "type": "temporal", "title": null},
            "y": {"field": "v", "type": "quantitative", "title": null},
            "stroke": {
              "datum": "0,0%",
              "type": "nominal",
              "scale": {"range": ["black"]},
              "legend": {
                "title": null,
                "orient": "none",
                "legendX": 1406,
                "legendY": 292,
                "symbolType": "stroke",
                "symbolSize": 1444,
                "symbolStrokeWidth": 4.5,
                "labelFontSize": 20,
                "labelFontWeight": "bold",
                "labelColor": "#595959",
                "labelLimit": 400,
                "labelOffset": 0,
                "padding": 4,
                "fillColor": "white"
              }
            }
          }
        }
      ]
    }
  ]
}
